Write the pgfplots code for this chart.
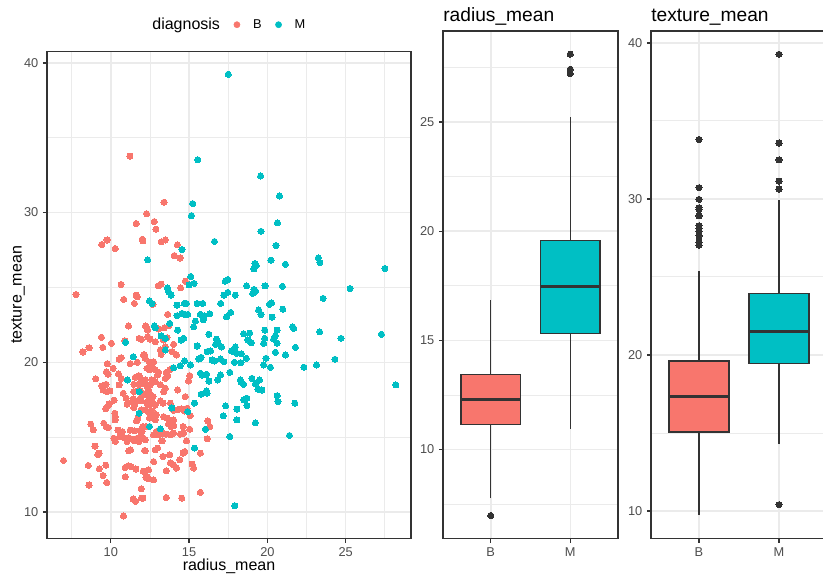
\documentclass[border=0pt]{standalone}
\usepackage{fontspec}
\setmainfont{Liberation Sans}
\usepackage{pgfplots}
\pgfplotsset{compat=1.18}
\usepgfplotslibrary{statistics}
\definecolor{Bcol}{HTML}{F8766D}
\definecolor{Mcol}{HTML}{00BFC4}
\definecolor{grey20}{HTML}{333333}
\definecolor{grey30}{HTML}{4D4D4D}
\definecolor{grey92}{HTML}{EBEBEB}
\pgfplotsset{gg/.style={
  scale only axis,
  axis line style={grey20, line width=0.95pt},
  tick style={grey20, line width=0.95pt},
  major tick length=3pt, minor tick length=0pt,
  tick align=outside, xtick pos=lower, ytick pos=left,
  major grid style={grey92, line width=1.15pt},
  minor grid style={grey92, line width=0.58pt},
  ticklabel style={font=\fontsize{9.6}{11}\selectfont, text=grey30},
  /pgf/number format/assume math mode=true,
  label style={font=\fontsize{12}{14}\selectfont},
  title style={at={(0,1)}, anchor=base west, inner sep=0pt, yshift=1.5pt, font=\fontsize{14.4}{17}\selectfont},
}}
\begin{document}
\begin{tikzpicture}
% ---------------- scatter ----------------
\begin{axis}[gg, at={(35.25pt,26.625pt)}, anchor=south west,
  width=273pt, height=365.25pt,
  xmin=5.925, xmax=29.17, ymin=8.23, ymax=40.76,
  xtick={10,15,20,25}, minor xtick={7.5,12.5,17.5,22.5,27.5},
  ytick={10,20,30,40}, minor ytick={15,25,35},
  grid=both,
  xlabel={radius\_mean}, ylabel={texture\_mean},
  xlabel style={at={(axis description cs:0.5,-0.0647)}, anchor=base, inner sep=0pt},
  ylabel style={at={(axis description cs:-0.0797,0.5)}, anchor=center, inner sep=0pt},
  legend style={at={(0.5,1.055)}, anchor=center, xshift=-4.9pt, draw=none, fill=none,
    legend columns=-1, font=\fontsize{9.6}{11}\selectfont,
    inner sep=0pt, nodes={inner sep=0pt},
    /tikz/every odd column/.append style={column sep=9.6pt},
    /tikz/every even column/.append style={column sep=10.2pt}},
]
\addlegendimage{empty legend}
\addlegendentry{\fontsize{12}{14}\selectfont diagnosis}
\addlegendimage{legend image code/.code={\fill[Bcol] (0pt,0pt) circle (2.3pt);}}
\addlegendentry{B}
\addlegendimage{legend image code/.code={\fill[Mcol] (0pt,0pt) circle (2.3pt);}}
\addlegendentry{M}
\addplot[only marks, mark=*, mark size=2.3pt, mark options={draw=Bcol, fill=Bcol, line width=0pt}, forget plot] table {
x y
11.22 33.77
13.40 30.69
12.28 29.93
11.62 29.27
12.78 29.40
12.88 28.89
9.42 27.87
9.76 28.17
10.28 27.60
12.01 28.22
12.05 28.11
13.22 28.04
13.48 28.17
14.25 27.84
14.06 27.13
14.42 26.97
10.66 25.20
13.03 25.11
13.22 25.22
14.46 24.97
14.76 25.42
7.78 24.53
10.83 24.20
11.62 24.49
11.69 24.37
11.51 23.93
11.13 22.42
12.22 22.42
9.40 21.67
8.61 20.97
8.22 20.69
9.49 21.00
10.04 21.27
10.90 21.44
11.81 21.60
11.96 21.53
10.66 20.31
10.53 20.20
11.24 19.91
11.69 20.00
12.15 20.51
9.78 19.91
10.15 19.60
9.72 19.37
9.83 19.20
9.04 18.89
10.49 19.22
10.66 18.93
10.53 18.49
11.56 19.00
11.79 19.11
11.47 18.53
11.79 18.53
12.12 18.69
9.44 18.42
9.70 18.53
9.51 18.15
9.76 18.04
9.94 18.09
10.79 17.93
11.47 18.04
11.69 18.09
10.21 17.47
10.98 17.60
11.43 17.55
11.73 17.42
9.89 17.22
9.78 17.04
9.68 16.89
11.04 17.20
11.37 17.37
11.51 17.15
11.96 17.42
11.47 16.97
11.94 16.82
10.26 16.60
10.29 16.37
10.28 16.15
8.72 15.87
8.88 15.49
9.55 15.93
9.70 15.71
9.85 15.64
11.64 16.09
11.73 16.27
10.45 15.47
10.74 15.37
11.24 15.47
11.51 15.42
11.86 15.44
12.26 15.71
10.19 14.93
10.58 15.04
10.90 14.93
11.15 14.97
11.43 14.87
11.69 14.93
12.01 14.89
10.29 14.71
11.04 14.71
11.51 14.75
11.79 14.71
11.26 14.15
11.15 14.09
12.15 14.11
8.99 14.40
9.25 13.93
9.17 13.84
6.98 13.44
8.56 13.11
9.27 12.89
9.68 13.13
10.92 12.97
11.11 13.09
11.30 13.02
11.60 12.87
12.07 12.73
9.51 12.44
10.92 12.35
12.24 12.31
9.74 11.97
8.61 11.80
11.94 11.55
11.43 10.87
11.58 10.71
11.96 10.93
10.81 9.73
12.69 23.87
13.63 23.20
12.26 22.37
12.35 22.15
13.05 22.22
13.42 22.31
13.69 22.44
12.35 21.71
12.52 21.55
12.84 21.37
13.37 21.49
13.59 21.64
14.01 21.20
13.48 21.04
13.16 20.82
13.21 20.53
13.91 20.71
14.19 20.49
12.09 20.49
12.20 20.27
12.47 20.00
12.73 20.04
12.31 19.60
12.47 19.49
12.63 19.71
12.84 19.49
13.05 19.33
12.99 19.15
13.54 19.33
13.76 19.49
13.91 19.60
13.63 19.11
13.48 18.93
15.04 19.11
14.97 18.75
11.88 18.97
11.99 18.60
12.20 18.82
12.63 18.82
12.84 18.71
12.52 18.49
12.31 18.37
13.16 18.49
13.48 18.27
13.37 18.04
14.27 18.15
14.76 17.71
11.88 18.09
12.05 17.93
12.20 17.82
11.88 17.60
12.41 18.15
12.52 17.82
12.69 17.71
12.41 17.49
12.31 17.27
12.47 17.15
12.63 17.33
12.84 17.15
13.16 17.42
13.33 17.27
13.80 17.27
14.00 16.80
14.27 16.82
14.49 16.89
14.70 16.75
14.87 16.93
15.08 16.44
12.20 16.82
12.35 16.71
12.52 16.60
12.63 16.75
12.73 16.37
12.90 16.49
12.47 16.27
12.84 16.15
13.37 16.37
13.59 16.27
13.76 16.15
13.91 16.04
14.01 16.15
13.69 15.87
13.85 15.71
14.01 15.77
12.05 15.71
11.99 15.37
11.88 15.04
12.09 14.93
12.90 15.37
12.73 15.15
13.05 15.15
13.27 15.27
13.54 15.20
13.80 15.15
14.01 15.27
14.62 15.71
15.04 15.53
14.44 15.20
14.65 15.27
14.83 14.75
12.20 14.82
13.27 14.75
12.20 14.09
12.84 14.15
12.99 14.27
13.33 13.71
13.76 13.82
13.80 13.27
14.01 13.15
14.19 12.93
14.40 13.49
14.62 13.93
14.72 14.04
12.73 13.37
12.41 12.82
12.09 12.71
12.31 12.37
12.41 12.22
12.73 12.15
13.54 12.75
15.19 13.20
15.29 12.93
15.72 13.93
16.19 16.09
16.32 15.71
16.15 14.89
12.05 10.93
13.54 10.97
14.53 10.93
15.72 11.31
};
\addplot[only marks, mark=*, mark size=2.3pt, mark options={draw=Mcol, fill=Mcol, line width=0pt}, forget plot] table {
x y
15.55 33.53
15.23 30.60
15.15 29.80
14.55 27.53
12.35 26.84
15.10 25.73
15.00 25.17
15.32 25.27
13.61 24.97
17.50 39.24
19.57 32.44
20.77 31.11
20.64 29.31
19.59 28.75
16.62 28.07
20.55 27.80
20.23 26.82
21.15 26.55
19.21 26.60
19.29 26.47
19.14 26.24
23.25 26.97
23.35 26.67
27.50 26.27
17.31 25.42
17.47 25.53
18.67 25.11
19.85 25.11
20.96 25.07
19.14 24.87
25.28 24.93
10.94 21.33
11.43 20.37
11.06 18.82
11.81 18.04
11.81 16.60
13.69 24.71
13.85 24.49
12.47 24.09
12.63 23.93
14.23 23.82
14.70 23.93
14.83 23.93
15.51 23.93
15.87 23.93
17.22 24.49
17.47 24.67
17.01 23.93
14.23 23.11
14.55 23.27
14.72 23.20
14.91 23.20
15.72 23.20
15.98 23.11
16.32 23.24
17.39 23.04
17.65 23.33
15.40 22.75
15.29 22.37
15.90 22.84
12.78 22.44
12.84 22.31
13.76 22.60
13.21 21.77
13.48 21.60
14.27 22.15
14.49 21.49
14.65 21.60
15.51 21.09
16.26 21.87
16.75 21.55
16.83 21.37
16.69 21.20
17.07 21.02
17.71 20.75
17.86 20.71
13.48 20.82
16.15 20.71
16.37 20.75
15.77 20.33
15.62 20.22
16.47 20.15
16.62 20.09
17.01 20.22
17.22 20.04
17.90 20.00
17.60 19.33
17.01 19.15
16.83 18.82
16.26 18.75
16.11 19.20
15.72 19.27
15.83 19.15
15.08 19.82
14.72 20.09
14.44 19.77
14.01 19.64
15.77 17.87
16.11 18.09
16.15 17.93
15.34 17.27
13.90 16.95
14.91 16.71
12.47 15.71
13.16 15.55
17.18 16.42
17.33 17.09
17.60 15.04
16.04 15.53
15.34 14.27
17.92 10.42
17.95 24.49
19.06 24.60
19.25 24.75
23.56 24.27
19.44 23.49
19.59 23.20
20.13 23.87
20.26 23.97
20.98 23.55
20.30 23.02
18.48 21.91
18.87 21.95
19.83 22.15
20.62 22.15
21.61 22.37
21.68 22.27
23.33 22.04
24.70 21.60
27.28 21.87
18.76 21.49
18.97 21.31
19.83 21.60
19.76 21.27
20.40 21.55
20.51 21.77
20.62 21.27
17.95 21.02
17.73 20.75
18.05 20.60
18.33 20.57
18.65 20.27
18.31 19.97
20.51 20.67
21.15 20.49
21.79 21.00
19.91 20.27
19.76 19.82
20.19 19.67
22.33 19.67
23.14 19.82
24.31 20.20
18.27 18.82
18.33 18.67
18.48 18.53
19.01 18.93
19.23 18.55
19.49 18.82
19.40 18.20
19.65 18.15
28.20 18.49
18.48 17.49
18.69 17.60
18.69 17.11
18.05 16.87
20.62 17.77
20.68 17.37
21.75 17.27
18.05 16.15
19.23 15.95
21.41 15.11
};
\end{axis}
% ---------------- radius boxplot ----------------
\begin{axis}[gg, at={(332.25pt,26.625pt)}, anchor=south west,
  width=131.25pt, height=380.6pt,
  xmin=0.4, xmax=2.6, ymin=5.925, ymax=29.17,
  xtick={1,2}, xticklabels={B,M},
  ytick={10,15,20,25}, minor ytick={7.5,12.5,17.5,22.5,27.5},
  xmajorgrids, ymajorgrids, yminorgrids,
  title={radius\_mean},
  boxplot/draw direction=y,
]
\addplot[boxplot prepared={lower whisker=7.76, lower quartile=11.15, median=12.3, upper quartile=13.45, upper whisker=16.84, draw position=1, box extend=0.75, whisker extend=0},
  draw=grey20, line width=0.95pt, fill=Bcol,
  boxplot/every box/.style={draw=grey20, fill=Bcol, line width=0.95pt},
  boxplot/every median/.style={draw=grey20, line width=2.1pt},
  mark=*, mark size=2.3pt, mark options={fill=grey20, draw=grey20, line width=0pt}]
  table[row sep=\\, y index=0] {6.98\\};
\addplot[boxplot prepared={lower whisker=10.95, lower quartile=15.3, median=17.45, upper quartile=19.58, upper whisker=25.22, draw position=2, box extend=0.75, whisker extend=0},
  draw=grey20, line width=0.95pt, fill=Mcol,
  boxplot/every box/.style={draw=grey20, fill=Mcol, line width=0.95pt},
  boxplot/every median/.style={draw=grey20, line width=2.1pt},
  mark=*, mark size=2.3pt, mark options={fill=grey20, draw=grey20, line width=0pt}]
  table[row sep=\\, y index=0] {27.22\\ 27.42\\ 28.11\\};
\end{axis}
% ---------------- texture boxplot ----------------
\begin{axis}[gg, at={(488.25pt,26.625pt)}, anchor=south west,
  width=132pt, height=380.6pt,
  xmin=0.4, xmax=2.6, ymin=8.23, ymax=40.76,
  xtick={1,2}, xticklabels={B,M},
  ytick={10,20,30,40}, minor ytick={15,25,35},
  xmajorgrids, ymajorgrids, yminorgrids,
  title={texture\_mean},
  boxplot/draw direction=y,
]
\addplot[boxplot prepared={lower whisker=9.71, lower quartile=15.05, median=17.35, upper quartile=19.6, upper whisker=25.4, draw position=1, box extend=0.75, whisker extend=0},
  draw=grey20, line width=0.95pt, fill=Bcol,
  boxplot/every box/.style={draw=grey20, fill=Bcol, line width=0.95pt},
  boxplot/every median/.style={draw=grey20, line width=2.1pt},
  mark=*, mark size=2.3pt, mark options={fill=grey20, draw=grey20, line width=0pt}]
  table[row sep=\\, y index=0] {33.81\\ 30.72\\ 29.97\\ 29.43\\ 29.31\\ 28.91\\ 28.28\\ 28.12\\ 27.93\\ 27.63\\ 27.23\\ 27.04\\};
\addplot[boxplot prepared={lower whisker=14.27, lower quartile=19.45, median=21.5, upper quartile=23.95, upper whisker=29.9, draw position=2, box extend=0.75, whisker extend=0},
  draw=grey20, line width=0.95pt, fill=Mcol,
  boxplot/every box/.style={draw=grey20, fill=Mcol, line width=0.95pt},
  boxplot/every median/.style={draw=grey20, line width=2.1pt},
  mark=*, mark size=2.3pt, mark options={fill=grey20, draw=grey20, line width=0pt}]
  table[row sep=\\, y index=0] {39.27\\ 33.58\\ 32.5\\ 31.14\\ 30.63\\ 10.4\\};
\end{axis}
\pgfresetboundingbox
\path (0,0) rectangle (617.25pt,430.5pt);
\end{tikzpicture}
\end{document}
